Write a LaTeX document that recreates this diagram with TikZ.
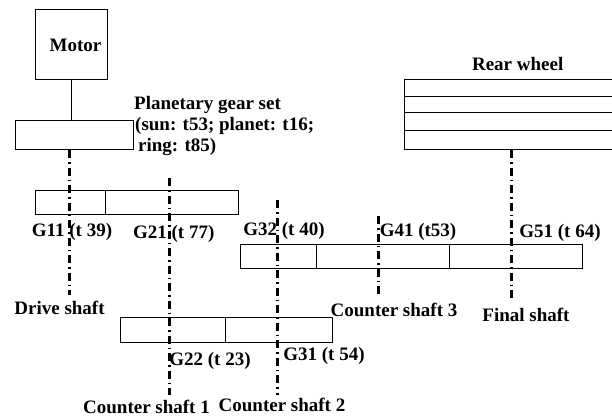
\documentclass[tikz,border=0pt]{standalone}
\usepackage{fontspec}
\setmainfont{Liberation Serif}
\usetikzlibrary{calc}
\tikzset{
  box/.style={draw, line width=0.8pt, minimum height=#1, inner sep=0pt, anchor=north west},
  lbl/.style={font=\fontsize{19}{21}\selectfont\bfseries, inner sep=0pt},
  shaft/.style={line width=2.4pt, dash pattern=on 8pt off 4pt on 1.5pt off 4pt}
}
\begin{document}
\begin{tikzpicture}[x=1pt, y=-1pt]
  \useasboundingbox (0,0) rectangle (612,417);
  % motor and planetary set
  \node[box=70pt, minimum width=72pt] (motor) at (35,9) {};
  \node[box=29pt, minimum width=118.5pt] (planet) at (14.5,120) {};
  \draw[line width=0.8pt] (motor.south) -- (motor.south |- planet.north);
  \node[lbl] (motorlbl) at (75.5,45.5) {Motor};
  \node[lbl, anchor=west] (planetlbl) at (134,105) {Planetary gear set};
  \node[lbl, anchor=west] (sunlbl) at (135,126) {(sun: t53; planet: t16;};
  \node[lbl, anchor=west] (ringlbl) at (138,147) {ring: t85)};
  % rear wheel
  \coordinate (wheelA) at (612,79);
  \coordinate (wheelB) at (404,79);
  \coordinate (wheelC) at (404,149);
  \coordinate (wheelD) at (612,149);
  \draw[line width=0.8pt] (wheelA) -- (wheelB) -- (wheelC) -- (wheelD);
  \draw[line width=0.8pt] (404,96) -- (612,96);
  \draw[line width=0.8pt] (404,112) -- (612,112);
  \draw[line width=0.8pt] (404,130) -- (612,130);
  \node[lbl] (wheellbl) at (517.7,64) {Rear wheel};
  % gear rows
  \node[box=24pt, minimum width=203pt] (rowA) at (35,190) {};
  \draw[line width=0.8pt] (105,190) -- (105,214);
  \node[box=25pt, minimum width=212.5pt] (rowB) at (119.5,317) {};
  \draw[line width=0.8pt] (225,317) -- (225,342);
  \node[box=24.5pt, minimum width=342pt] (rowC) at (240,243.5) {};
  \draw[line width=0.8pt] (316.5,243.5) -- (316.5,268);
  \draw[line width=0.8pt] (449,243.5) -- (449,268);
  % shafts
  \draw[shaft] (69.5,150) -- (69.5,295);
  \draw[shaft] (169.5,178) -- (169.5,395);
  \draw[shaft] (277.5,200) -- (277.5,395);
  \draw[shaft] (378.5,216) -- (378.5,297);
  \draw[shaft] (511.5,150) -- (511.5,300);
  % gears
  \node[lbl] (gA) at (72,232) {G11 (t 39)};
  \node[lbl] (gB) at (173.7,234) {G21 (t 77)};
  \node[lbl] (gC) at (284,231) {G32 (t 40)};
  \node[lbl] (gD) at (418,232) {G41 (t53)};
  \node[lbl] (gE) at (560,233) {G51 (t 64)};
  \node[lbl] (gF) at (210,361) {G22 (t 23)};
  \node[lbl] (gG) at (324,356) {G31 (t 54)};
  % shaft names
  \node[lbl] (driveshaft) at (59.5,308) {Drive shaft};
  \node[lbl] (countera) at (146.5,407) {Counter shaft 1};
  \node[lbl] (counterb) at (282,405) {Counter shaft 2};
  \node[lbl] (counterc) at (394,310) {Counter shaft 3};
  \node[lbl] (finalshaft) at (526,315) {Final shaft};
\end{tikzpicture}
\end{document}
